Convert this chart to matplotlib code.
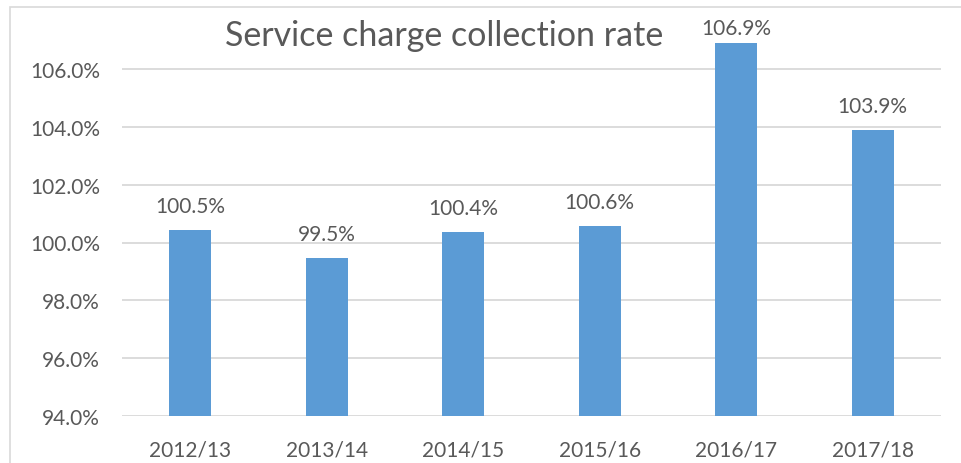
import matplotlib
matplotlib.use("Agg")
import matplotlib.pyplot as plt
from matplotlib.patches import Rectangle

categories = ["2012/13", "2013/14", "2014/15", "2015/16", "2016/17", "2017/18"]
values = [100.42, 99.48, 100.36, 100.56, 106.9, 103.9]
labels = ["100.5%", "99.5%", "100.4%", "100.6%", "106.9%", "103.9%"]
yticks = [94, 96, 98, 100, 102, 104, 106]
title = "Service charge collection rate"

plt.rcParams['font.family'] = ['Lato', 'DejaVu Sans']
TXT = "#595959"
W, H = 962, 464
fig = plt.figure(figsize=(W / 100, H / 100), dpi=100)

# outer chart border
fig.patches.append(Rectangle((10 / W, -0.2), 1.5, 1.2 - 8 / H + 0.0,
                             transform=fig.transFigure, fill=False,
                             edgecolor="#D9D9D9", linewidth=1.2))

ymin, ymax = 94, 107.5
px_per = (417 - 70) / 12.0
top_px = 70 - (ymax - 106) * px_per
ax = fig.add_axes([122 / W, 1 - 417 / H, (941 - 122) / W, (417 - top_px) / H])
ax.set_xlim(-0.5, len(categories) - 0.5)
ax.set_ylim(ymin, ymax)
ax.bar(range(len(categories)), [v - ymin for v in values], bottom=ymin,
       width=0.31, color="#5B9BD5", zorder=3)
for s in ax.spines.values():
    s.set_visible(False)
ax.set_yticks(yticks)
ax.set_yticklabels([f"{t:.1f}%" for t in yticks])
ax.set_xticks(range(len(categories)))
ax.set_xticklabels(categories)
ax.grid(axis="y", color="#D9D9D9", linewidth=1.3, zorder=0)
ax.tick_params(axis="both", length=0, labelsize=15, labelcolor=TXT)
ax.tick_params(axis="y", pad=16)
ax.tick_params(axis="x", pad=17)

cap = 106 + (70 - 35) / px_per
off = 18 / px_per
for i, (v, lab) in enumerate(zip(values, labels)):
    ax.text(i, min(v + off, cap), lab, ha="center", va="baseline",
            fontsize=15, color=TXT, zorder=4)

fig.text(444 / W, 1 - 46.5 / H, title, ha="center", va="baseline",
         fontsize=24.5, color=TXT)

fig.savefig("out.png", dpi=100)
